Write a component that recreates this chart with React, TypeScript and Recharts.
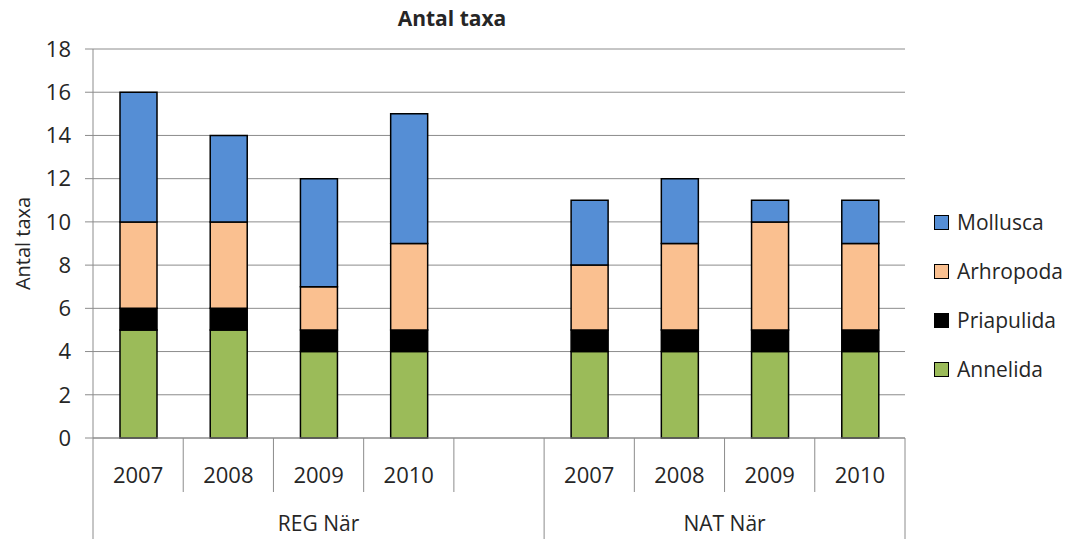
import React from 'react'
import { BarChart, Bar, XAxis, YAxis, CartesianGrid } from 'recharts'

// categories: two groups of years with an empty slot between them
const categories = ['REG 2007', 'REG 2008', 'REG 2009', 'REG 2010', 'gap', 'NAT 2007', 'NAT 2008', 'NAT 2009', 'NAT 2010']
const yearLabels = ['2007', '2008', '2009', '2010', '', '2007', '2008', '2009', '2010']
const groupLabels = ['REG När', 'NAT När']
const groupStarts = [0, 5]
const groupEnds = [5, 9]

const annelida = [5, 5, 4, 4, null, 4, 4, 4, 4]
const priapulida = [1, 1, 1, 1, null, 1, 1, 1, 1]
const arhropoda = [4, 4, 2, 4, null, 3, 4, 5, 4]
const mollusca = [6, 4, 5, 6, null, 3, 3, 1, 2]

const yTicks = [0, 2, 4, 6, 8, 10, 12, 14, 16, 18]

const series = [
    { key: 'Annelida', values: annelida, color: '#9BBB59' },
    { key: 'Priapulida', values: priapulida, color: '#000000' },
    { key: 'Arhropoda', values: arhropoda, color: '#FAC090' },
    { key: 'Mollusca', values: mollusca, color: '#558ED5' },
]

const rows = categories.map((c, i) => {
    const row: any = { cat: c }
    series.forEach(s => { row[s.key] = s.values[i] })
    return row
})

const FONT = '"Open Sans", sans-serif'
const TEXT = '#262626'
const LINE = '#8c8c8c'

const W = 1069
const H = 531
const M = { top: 41, right: 172, left: 0, bottom: 0 }
const Y_W = 85
const plotW = W - M.left - M.right - Y_W
const slot = plotW / categories.length

const CategoryTick = (props: any) => {
    const { x, y, index } = props
    const left = x - slot / 2
    const isStart = groupStarts.includes(index)
    const parts: any[] = []
    parts.push(<line key="l" x1={left} x2={left} y1={y} y2={y + (isStart ? 110 : 54)} stroke={LINE} />)
    if (index === categories.length - 1) {
        parts.push(<line key="r" x1={x + slot / 2} x2={x + slot / 2} y1={y} y2={y + 110} stroke={LINE} />)
    }
    if (yearLabels[index]) {
        parts.push(
            <text key="t" x={x} y={y + 45} textAnchor="middle" fontFamily={FONT} fontSize={22} fill={TEXT}>
                {yearLabels[index]}
            </text>
        )
    }
    groupLabels.forEach((g, gi) => {
        const c = (groupStarts[gi] + groupEnds[gi] - 1) / 2
        if (Math.floor(c) === index) {
            parts.push(
                <text key={'g' + gi} x={x + (c - index) * slot} y={y + 93} textAnchor="middle" fontFamily={FONT} fontSize={21} fill={TEXT}>
                    {g}
                </text>
            )
        }
    })
    return <g>{parts}</g>
}

const YLabel = (props: any) => {
    const vb = props.viewBox
    const cx = vb.x + 14
    const cy = vb.y + vb.height / 2
    return (
        <text x={cx} y={cy} transform={`rotate(-90 ${cx} ${cy})`} textAnchor="middle" dominantBaseline="central" fontFamily={FONT} fontSize={20} fill={TEXT}>
            Antal taxa
        </text>
    )
}

const App = () => {
    return (
        <div style={{ position: 'relative', width: W, height: H }}>
            <div style={{ position: 'absolute', left: 444, top: 0, transform: 'translateX(-50%)', fontFamily: FONT, fontWeight: 700, fontSize: 21, lineHeight: '21px', color: TEXT, whiteSpace: 'nowrap' }}>
                Antal taxa
            </div>
            <BarChart width={W} height={H} data={rows} margin={M}>
                <CartesianGrid vertical={false} stroke={LINE} strokeWidth={1} />
                <XAxis dataKey="cat" height={101} interval={0} tick={<CategoryTick />} tickLine={false} tickSize={0} tickMargin={0} axisLine={{ stroke: LINE }} />
                <YAxis width={Y_W} domain={[0, 18]} ticks={yTicks} interval={0} tickSize={8} tickMargin={14}
                    axisLine={{ stroke: LINE }} tickLine={{ stroke: LINE }}
                    tick={{ fontFamily: FONT, fontSize: 22, fill: TEXT }}
                    label={{ value: 'Antal taxa', content: <YLabel /> }} />
                <YAxis yAxisId="edge" orientation="right" width={0} tick={false} tickLine={false} axisLine={{ stroke: LINE }} />
                {series.map(s => (
                    <Bar key={s.key} dataKey={s.key} stackId="a" fill={s.color} stroke="#000" strokeWidth={1.5} barSize={37} isAnimationActive={false} />
                ))}
            </BarChart>
            <div style={{ position: 'absolute', left: 926, top: 0, fontFamily: FONT, fontSize: 21, color: TEXT }}>
                {series.slice().reverse().map((s, i) => (
                    <div key={s.key} style={{ position: 'absolute', top: 214 + i * 49 - 15, left: 0, height: 30, display: 'flex', alignItems: 'center', whiteSpace: 'nowrap' }}>
                        <span style={{ display: 'inline-block', width: 13, height: 13, background: s.color, border: '1px solid #000', marginRight: 8 }} />
                        {s.key}
                    </div>
                ))}
            </div>
        </div>
    )
}

export default App
